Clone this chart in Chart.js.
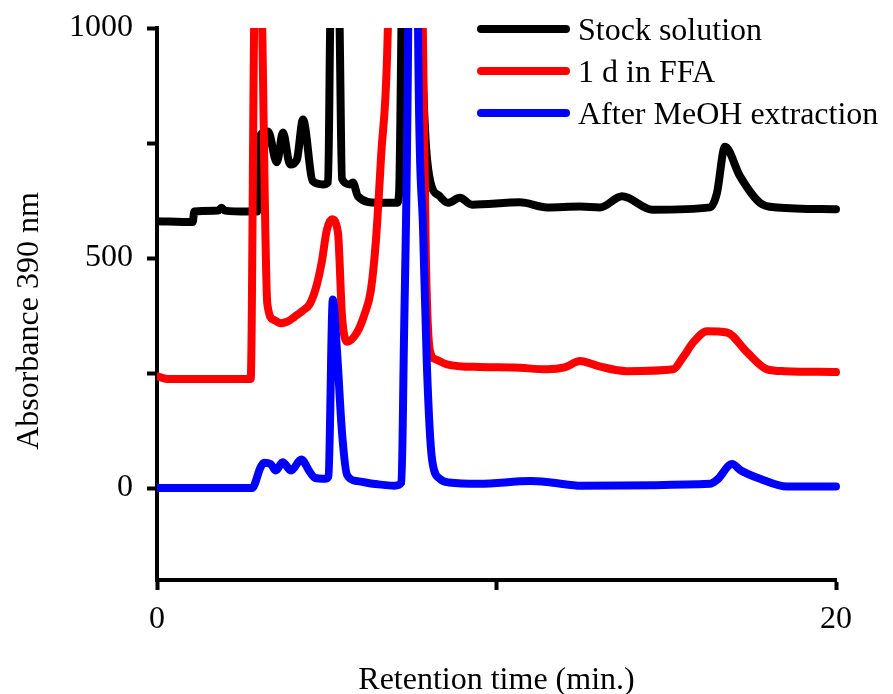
<!DOCTYPE html>
<html>
<head>
<meta charset="utf-8">
<script src="https://cdn.jsdelivr.net/npm/chart.js"></script>
<style>
  html, body { margin: 0; padding: 0; background: #fff; }
  #wrap { width: 893px; height: 694px; }
</style>
</head>
<body>
<div id="wrap"><canvas id="chrom" width="893" height="694"></canvas></div>
<script>
const stockTime = [0, 1.05, 1.1, 1.8, 1.9, 2.0, 2.7, 2.95, 3.0, 3.27, 3.53, 3.71, 3.92, 4.12, 4.30, 4.59, 4.89, 5.04, 5.1, 5.25, 5.38, 5.45, 5.68, 5.77, 5.92, 6.48, 7.07, 7.13, 7.2, 7.5, 7.8, 7.9, 8.04, 8.33, 8.57, 8.92, 9.28, 10.69, 11.49, 12.46, 13.05, 13.7, 14.6, 16.29, 16.49, 16.73, 17.17, 17.76, 18.26, 20];
const stockAbs  = [580, 578, 601, 603, 609, 603, 601, 601, 762, 775, 708, 773, 703, 714, 801, 667, 660, 665, 1000, 1600, 1000, 672, 660, 664, 634, 620, 620, 640, 1000, 3000, 1000, 773, 670, 634, 620, 631, 616, 621, 610, 612, 610, 634, 605, 610, 640, 742, 678, 620, 610, 606];

const ffaTime = [0, 0.3, 2.76, 2.86, 2.98, 3.1, 3.25, 3.45, 3.65, 3.85, 4.05, 4.3, 4.5, 4.7, 4.85, 5.0, 5.15, 5.33, 5.45, 5.6, 5.89, 6.1, 6.3, 6.45, 6.6, 6.8, 7.1, 7.45, 7.83, 7.92, 8.04, 8.2, 8.54, 9.5, 10.5, 11.5, 12.0, 12.46, 13.0, 13.84, 15.2, 15.5, 15.8, 16.2, 16.79, 17.38, 17.97, 18.5, 20];
const ffaAbs  = [243, 237, 237, 1000, 1600, 1000, 400, 365, 358, 362, 372, 386, 400, 440, 490, 560, 584, 555, 373, 318, 338, 375, 430, 540, 720, 1000, 2500, 3000, 1000, 500, 298, 280, 269, 263, 262, 258, 262, 276, 265, 254, 258, 285, 317, 341, 338, 295, 258, 254, 252];

const meohTime = [0, 2.8, 3.05, 3.15, 3.35, 3.5, 3.7, 3.95, 4.25, 4.5, 4.65, 4.95, 5.05, 5.18, 5.3, 5.45, 5.6, 5.9, 6.5, 7.0, 7.2, 7.27, 7.4, 7.55, 7.69, 7.84, 7.95, 8.1, 8.33, 8.6, 9.5, 11.0, 11.6, 12.5, 16.29, 16.5, 16.94, 17.2, 17.76, 18.56, 20];
const meohAbs  = [0, 0, 45, 55, 52, 38, 56, 38, 62, 35, 22, 20, 25, 410, 300, 120, 28, 15, 8, 5, 12, 300, 1000, 3000, 1000, 555, 265, 63, 20, 12, 9, 15, 12, 5, 9, 18, 52, 38, 20, 3, 3];

const seriesLabels = ['Stock solution', '1 d in FFA', 'After MeOH extraction'];
const seriesColors = ['#000000', '#ff0000', '#0000ff'];

const xTicks = [0, 10, 20];
const xLabeled = [0, 20];
const yTicks = [0, 250, 500, 750, 1000];
const yLabeled = [0, 500, 1000];
const yTitle = 'Absorbance 390 nm';

const FONT = "'Liberation Serif', 'Times New Roman', serif";

function pts(xs, ys) {
  return xs.map((x, i) => ({ x, y: ys[i] }));
}

// legenda em coluna no canto superior direito + título do eixo y
const sideLegend = {
  id: 'sideLegend',
  afterDraw(chart) {
    const ctx = chart.ctx;
    ctx.save();
    ctx.font = `32px ${FONT}`;
    ctx.textBaseline = 'middle';
    chart.data.datasets.forEach((ds, i) => {
      const y = 29 + i * 42;
      ctx.strokeStyle = ds.borderColor;
      ctx.lineWidth = 8;
      ctx.lineCap = 'round';
      ctx.beginPath();
      ctx.moveTo(481, y);
      ctx.lineTo(566, y);
      ctx.stroke();
      ctx.fillStyle = '#000';
      ctx.fillText(ds.label, 578, y + 3);
    });
    // título vertical, um pouco abaixo do centro como no original
    ctx.translate(30, 321);
    ctx.rotate(-Math.PI / 2);
    ctx.textAlign = 'center';
    ctx.fillText(yTitle, 0, 0);
    ctx.restore();
  }
};

const axisGrid = {
  drawOnChartArea: false,
  drawTicks: true,
  tickLength: 10,
  tickWidth: 4,
  tickColor: '#000'
};
const axisBorder = { display: true, width: 4, color: '#000' };

const mkSet = (i, xs, ys, order) => ({
  label: seriesLabels[i],
  data: pts(xs, ys),
  borderColor: seriesColors[i],
  backgroundColor: seriesColors[i],
  borderWidth: 8,
  pointRadius: 0,
  borderJoinStyle: 'round',
  borderCapStyle: 'round',
  cubicInterpolationMode: 'monotone',
  clip: { left: 0, top: 0, right: 4, bottom: 4 },
  order
});

new Chart(document.getElementById('chrom'), {
  type: 'line',
  data: {
    datasets: [
      mkSet(0, stockTime, stockAbs, 3),
      mkSet(1, ffaTime, ffaAbs, 2),
      mkSet(2, meohTime, meohAbs, 1)
    ]
  },
  options: {
    responsive: false,
    animation: false,
    devicePixelRatio: 1,
    layout: { padding: { top: 28, right: 57, left: 0, bottom: 0 } },
    plugins: { legend: { display: false }, tooltip: { enabled: false } },
    scales: {
      x: {
        type: 'linear',
        min: 0, max: 20,
        z: 1,
        afterFit: s => { s.height = 114; },
        afterBuildTicks: s => { s.ticks = xTicks.map(v => ({ value: v })); },
        grid: axisGrid,
        border: axisBorder,
        ticks: {
          color: '#000',
          padding: 10,
          maxRotation: 0,
          font: { family: FONT, size: 32 },
          callback: v => xLabeled.includes(v) ? String(v) : ''
        },
        title: {
          display: true,
          text: 'Retention time (min.)',
          color: '#000',
          font: { family: FONT, size: 32, lineHeight: 1 },
          padding: { top: 0, bottom: -3 }
        }
      },
      y: {
        type: 'linear',
        min: -200, max: 1000,
        z: 1,
        afterFit: s => { s.width = 157; s.paddingTop = 0; s.paddingBottom = 0; },
        afterBuildTicks: s => { s.ticks = yTicks.map(v => ({ value: v })); },
        grid: axisGrid,
        border: axisBorder,
        ticks: {
          color: '#000',
          padding: 14,
          font: { family: FONT, size: 32 },
          callback: v => yLabeled.includes(v) ? String(v) : ''
        },
        title: { display: false }
      }
    }
  },
  plugins: [sideLegend]
});
</script>
</body>
</html>
